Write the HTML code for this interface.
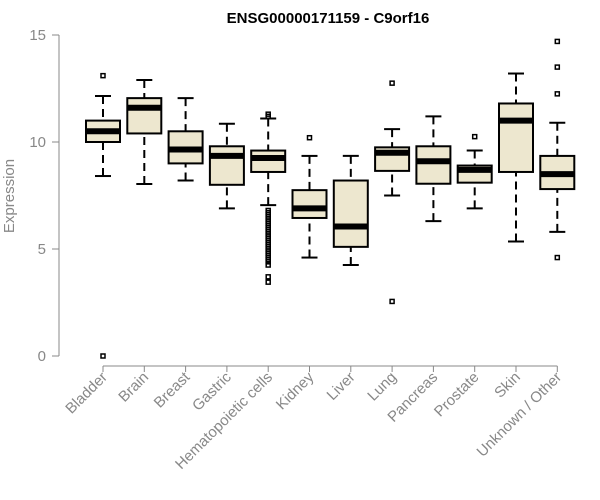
<!DOCTYPE html>
<html><head><meta charset="utf-8"><style>body{margin:0;background:#fff}svg{display:block}</style></head>
<body>
<svg id="chart" width="600" height="500" xmlns="http://www.w3.org/2000/svg" font-family="Liberation Sans, sans-serif"></svg>
<script>
const categories=["Bladder","Brain","Breast","Gastric","Hematopoietic cells","Kidney","Liver","Lung","Pancreas","Prostate","Skin","Unknown / Other"];
const whiskerLow=[8.41,8.04,8.2,6.9,7.05,4.6,4.25,7.5,6.3,6.9,5.35,5.8];
const q1s=[10.0,10.4,9.0,8.0,8.6,6.45,5.1,8.65,8.05,8.1,8.6,7.8];
const medians=[10.5,11.6,9.65,9.35,9.25,6.9,6.05,9.5,9.1,8.7,11.0,8.5];
const q3s=[11.0,12.05,10.5,9.8,9.6,7.75,8.2,9.75,9.8,8.9,11.8,9.35];
const whiskerHigh=[12.15,12.9,12.05,10.85,11.1,9.35,9.35,10.6,11.2,9.6,13.2,10.9];
const outliers=[[13.1,0],[],[],[],[11.3,11.2,6.8,6.7,6.6,6.5,6.4,6.3,6.2,6.1,6.0,5.9,5.8,5.7,5.6,5.5,5.4,5.3,5.2,5.1,5.0,4.9,4.8,4.7,4.6,4.5,4.4,4.25,3.7,3.45],[10.2],[],[12.75,2.55],[],[10.25],[],[14.7,13.5,12.25,4.6]];
const yTicks=[0,5,10,15];
const svg=document.getElementById('chart');const NS="http://www.w3.org/2000/svg";
function y(v){return 356-v*21.4;}
function x(i){return 103+i*41.3;}
function el(t,a,p){const e=document.createElementNS(NS,t);for(const k in a)e.setAttribute(k,a[k]);(p||svg).appendChild(e);return e;}
let t=el('text',{x:328,y:23,'text-anchor':'middle','font-size':15,'font-weight':'bold',fill:'#000'});t.textContent="ENSG00000171159 - C9orf16";

let ax=el('line',{x1:59,x2:59,y1:y(15),y2:y(0),stroke:'#888'});

yTicks.forEach(v=>{el('line',{x1:52,x2:59,y1:y(v),y2:y(v),stroke:'#888'});
 const tt=el('text',{x:46,y:y(v)+5,'text-anchor':'end','font-size':15,fill:'#888'});tt.textContent=v;
 });
const yt=el('text',{x:14,y:196,'text-anchor':'middle','font-size':15,fill:'#888',transform:'rotate(-90 14 196)'});yt.textContent="Expression";

const xa=el('line',{x1:x(0),x2:x(11),y1:366,y2:366,stroke:'#888'});

categories.forEach((c,i)=>{
 const cx=x(i),hw=17;
 const g=el('g',{});
 
 
 el('line',{x1:cx,x2:cx,y1:y(whiskerLow[i]),y2:y(q1s[i]),stroke:'#000','stroke-width':2,'stroke-dasharray':'8,5'},g);
 el('line',{x1:cx,x2:cx,y1:y(whiskerHigh[i]),y2:y(q3s[i]),stroke:'#000','stroke-width':2,'stroke-dasharray':'8,5'},g);
 el('line',{x1:cx-8,x2:cx+8,y1:y(whiskerLow[i]),y2:y(whiskerLow[i]),stroke:'#000','stroke-width':2},g);
 el('line',{x1:cx-8,x2:cx+8,y1:y(whiskerHigh[i]),y2:y(whiskerHigh[i]),stroke:'#000','stroke-width':2},g);
 el('rect',{x:cx-hw,y:y(q3s[i]),width:hw*2,height:y(q1s[i])-y(q3s[i]),fill:'#ede7cf',stroke:'#000','stroke-width':2},g);
 el('line',{x1:cx-hw,x2:cx+hw,y1:y(medians[i]),y2:y(medians[i]),stroke:'#000','stroke-width':6},g);
 outliers[i].forEach(v=>el('rect',{x:cx-2,y:y(v)-2,width:4,height:4,fill:'none',stroke:'#000','stroke-width':1.5},g));
 el('line',{x1:cx,x2:cx,y1:366,y2:372,stroke:'#888'});
 const lb=el('text',{x:cx+5,y:378,'text-anchor':'end','font-size':15,fill:'#888',transform:`rotate(-45 ${cx+5} 378)`});lb.textContent=c;
 
});
</script>
</body></html>
